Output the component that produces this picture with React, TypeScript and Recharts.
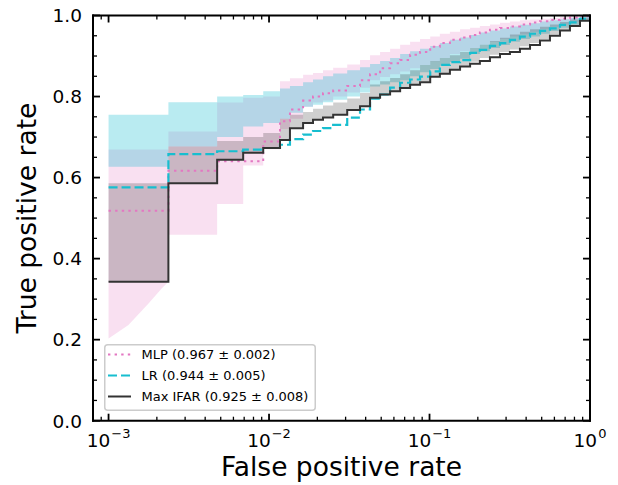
import React from "react";
import { ComposedChart, Area, Line, XAxis, YAxis, Legend, Label } from "recharts";

// False positive rate grid shared by the curves and the bands
const fpr = [
  0.001, 0.00236, 0.00475, 0.0069, 0.0092, 0.0117, 0.0135, 0.0163, 0.0188, 0.0217,
  0.0251, 0.0307, 0.0369, 0.0426, 0.0492, 0.0568, 0.0656, 0.0757, 0.0873, 0.101,
  0.116, 0.134, 0.155, 0.179, 0.206, 0.238, 0.275, 0.317, 0.366, 0.423,
  0.488, 0.563, 0.65, 0.75, 0.866, 1,
];

// True positive rate of each model
const mlpTpr = [
  0.518, 0.617, 0.64, 0.64, 0.689, 0.739, 0.768, 0.79, 0.8, 0.808,
  0.815, 0.826, 0.84, 0.855, 0.87, 0.882, 0.89, 0.903, 0.91, 0.923,
  0.932, 0.94, 0.946, 0.952, 0.958, 0.965, 0.969, 0.973, 0.978, 0.983,
  0.986, 0.989, 0.992, 0.995, 0.998, 1,
];
const lrTpr = [
  0.576, 0.658, 0.665, 0.669, 0.673, 0.681, 0.695, 0.706, 0.715, 0.722,
  0.73, 0.748, 0.768, 0.795, 0.805, 0.822, 0.834, 0.842, 0.849, 0.862,
  0.878, 0.885, 0.89, 0.908, 0.915, 0.925, 0.932, 0.94, 0.948, 0.955,
  0.962, 0.968, 0.977, 0.983, 0.992, 1,
];
const ifarTpr = [
  0.343, 0.586, 0.644, 0.661, 0.673, 0.693, 0.722, 0.735, 0.743, 0.748,
  0.755, 0.767, 0.776, 0.797, 0.805, 0.813, 0.821, 0.829, 0.835, 0.849,
  0.856, 0.866, 0.874, 0.881, 0.888, 0.897, 0.905, 0.91, 0.918, 0.927,
  0.938, 0.95, 0.963, 0.974, 0.987, 1,
];

// Uncertainty bands (low / high)
const mlpLow = [
  0.669, 0.459, 0.535, 0.63, 0.67, 0.72, 0.745, 0.775, 0.785, 0.79,
  0.8, 0.81, 0.822, 0.84, 0.848, 0.855, 0.862, 0.87, 0.878, 0.887,
  0.895, 0.905, 0.912, 0.92, 0.928, 0.935, 0.942, 0.948, 0.954, 0.96,
  0.966, 0.972, 0.978, 0.984, 0.99, 1,
];
const mlpHigh = [
  0.669, 0.714, 0.785, 0.797, 0.8, 0.838, 0.845, 0.854, 0.858, 0.865,
  0.871, 0.879, 0.89, 0.902, 0.91, 0.918, 0.928, 0.935, 0.942, 0.948,
  0.955, 0.96, 0.966, 0.97, 0.974, 0.978, 0.982, 0.985, 0.988, 0.99,
  0.992, 0.994, 0.996, 0.997, 0.999, 1,
];
const lrLow = [
  0.627, 0.677, 0.7, 0.726, 0.735, 0.745, 0.76, 0.775, 0.78, 0.786,
  0.792, 0.8, 0.81, 0.825, 0.83, 0.835, 0.84, 0.85, 0.86, 0.868,
  0.876, 0.885, 0.893, 0.905, 0.912, 0.92, 0.927, 0.935, 0.942, 0.948,
  0.955, 0.962, 0.97, 0.977, 0.986, 1,
];
const lrHigh = [
  0.755, 0.786, 0.8, 0.804, 0.813, 0.82, 0.826, 0.835, 0.842, 0.85,
  0.857, 0.865, 0.872, 0.88, 0.888, 0.895, 0.905, 0.912, 0.918, 0.925,
  0.932, 0.94, 0.946, 0.952, 0.958, 0.963, 0.968, 0.973, 0.977, 0.981,
  0.985, 0.988, 0.991, 0.994, 0.997, 1,
];
const ifarLow = [
  0.343, 0.586, 0.644, 0.661, 0.673, 0.693, 0.722, 0.735, 0.743, 0.748,
  0.755, 0.767, 0.776, 0.797, 0.805, 0.813, 0.821, 0.829, 0.837, 0.85,
  0.858, 0.868, 0.876, 0.886, 0.895, 0.903, 0.91, 0.916, 0.924, 0.932,
  0.942, 0.953, 0.965, 0.976, 0.988, 1,
];
const ifarHigh = [
  0.586, 0.677, 0.69, 0.7, 0.71, 0.745, 0.755, 0.762, 0.77, 0.778,
  0.785, 0.795, 0.809, 0.83, 0.838, 0.846, 0.855, 0.865, 0.878, 0.888,
  0.895, 0.902, 0.91, 0.92, 0.928, 0.937, 0.945, 0.953, 0.96, 0.966,
  0.972, 0.978, 0.984, 0.99, 0.995, 1,
];

// MLP band in the first bin has a curved lower edge
const mlpHeadFpr = [0.001, 0.00133, 0.00178, 0.00215, 0.00236];
const mlpHeadLow = [0.203, 0.236, 0.29, 0.327, 0.343];
const mlpHeadHigh = [0.669, 0.669, 0.669, 0.669, 0.669];

// Ticks
const xMajor = [0.001, 0.01, 0.1, 1];
const xExponents = ["\u22123", "\u22122", "\u22121", "0"];
const xMinor = [
  0.0009, 0.002, 0.003, 0.004, 0.005, 0.006, 0.007, 0.008, 0.009,
  0.02, 0.03, 0.04, 0.05, 0.06, 0.07, 0.08, 0.09,
  0.2, 0.3, 0.4, 0.5, 0.6, 0.7, 0.8, 0.9,
];
const yMajor = [0, 0.2, 0.4, 0.6, 0.8, 1];
const yMinor = [0.05, 0.1, 0.15, 0.25, 0.3, 0.35, 0.45, 0.5, 0.55, 0.65, 0.7, 0.75, 0.85, 0.9, 0.95];

const legendLabels = ["MLP (0.967 \u00b1 0.002)", "LR (0.944 \u00b1 0.005)", "Max IFAR (0.925 \u00b1 0.008)"];

const PINK = "#e377c2";
const CYAN = "#17becf";
const DARK = "#333333";
const FONT = "DejaVu Sans, sans-serif";

const rows = fpr.map((x, i) => ({
  fpr: x,
  mlp: mlpTpr[i],
  lr: lrTpr[i],
  ifar: ifarTpr[i],
  mlpBand: [mlpLow[i], mlpHigh[i]],
  lrBand: [lrLow[i], lrHigh[i]],
  ifarBand: [ifarLow[i], ifarHigh[i]],
}));

const headRows = mlpHeadFpr.map((x, i) => ({ fpr: x, mlpBand: [mlpHeadLow[i], mlpHeadHigh[i]] }));

const xTicks = [...xMajor, ...xMinor].sort((a, b) => a - b);
const yTicks = [...yMajor, ...yMinor].sort((a, b) => a - b);

const MAJOR_LEN = 7;
const MINOR_LEN = 4;
const frameLine = { stroke: "#000", strokeWidth: 2, strokeLinecap: "square" as const };

// rough DejaVu Sans advance widths (em) for the tick label glyphs
const BASE_SIZE = 18.5;
const SUP_SIZE = 13;
const supWidth = (s: string) => [...s].reduce((w, c) => w + (c === "\u2212" ? 0.838 : 0.636), 0) * SUP_SIZE;

function BottomTick(props: any) {
  const { x, y, payload } = props;
  const idx = xMajor.indexOf(payload.value);
  const major = idx >= 0;
  const baseW = 2 * 0.636 * BASE_SIZE;
  const exp = major ? xExponents[idx] : "";
  const total = baseW + 1 + supWidth(exp);
  const left = x - total / 2;
  return (
    <g>
      <line x1={x} x2={x} y1={y} y2={y - (major ? MAJOR_LEN : MINOR_LEN)} stroke="#000" strokeWidth={major ? 1.8 : 1.3} />
      {major && (
        <>
          <text x={left} y={y + 26.5} textAnchor="start" fontFamily={FONT} fontSize={BASE_SIZE} fill="#000">
            10
          </text>
          <text x={left + baseW + 1} y={y + 17} textAnchor="start" fontFamily={FONT} fontSize={SUP_SIZE} fill="#000">
            {exp}
          </text>
        </>
      )}
    </g>
  );
}

function TopTick(props: any) {
  const { x, y, payload } = props;
  const major = xMajor.includes(payload.value);
  return <line x1={x} x2={x} y1={y} y2={y + (major ? MAJOR_LEN : MINOR_LEN)} stroke="#000" strokeWidth={major ? 1.8 : 1.3} />;
}

function LeftTick(props: any) {
  const { x, y, payload } = props;
  const major = yMajor.some((v) => Math.abs(v - payload.value) < 1e-9);
  return (
    <g>
      <line x1={x} x2={x + (major ? MAJOR_LEN : MINOR_LEN)} y1={y} y2={y} stroke="#000" strokeWidth={major ? 1.8 : 1.3} />
      {major && (
        <text x={x - 11} y={y + 6.8} textAnchor="end" fontFamily={FONT} fontSize={BASE_SIZE} fill="#000">
          {payload.value.toFixed(1)}
        </text>
      )}
    </g>
  );
}

function RightTick(props: any) {
  const { x, y, payload } = props;
  const major = yMajor.some((v) => Math.abs(v - payload.value) < 1e-9);
  return <line x1={x} x2={x - (major ? MAJOR_LEN : MINOR_LEN)} y1={y} y2={y} stroke="#000" strokeWidth={major ? 1.8 : 1.3} />;
}

function LegendBox() {
  const styles = [
    { stroke: PINK, dash: "2.4 4.2", width: 2 },
    { stroke: CYAN, dash: "9 4", width: 2.2 },
    { stroke: DARK, dash: undefined, width: 2 },
  ];
  return (
    <svg width={212} height={67} style={{ display: "block" }}>
      <rect x={0.75} y={0.75} width={210.5} height={65.5} rx={3} fill="#fff" fillOpacity={0.8} stroke="#cccccc" strokeWidth={1.5} />
      {legendLabels.map((label, i) => (
        <g key={label}>
          <line x1={4} x2={27} y1={10.5 + i * 21} y2={10.5 + i * 21} stroke={styles[i].stroke} strokeWidth={styles[i].width} strokeDasharray={styles[i].dash} />
          <text x={37.5} y={15.3 + i * 21} fontFamily={FONT} fontSize={13} fill="#000">
            {label}
          </text>
        </g>
      ))}
    </svg>
  );
}

export default function App() {
  return (
    <div style={{ position: "absolute", left: 0, top: 0, background: "#fff" }}>
      <ComposedChart width={618} height={485} data={rows} margin={{ top: 14.5, right: 27, bottom: 63.3, left: 92 }}>
        <XAxis
          dataKey="fpr"
          type="number"
          scale="log"
          domain={[0.0008, 1]}
          allowDataOverflow
          ticks={xTicks}
          interval={0}
          height={1}
          tickSize={0}
          tickMargin={0}
          tickLine={false}
          axisLine={frameLine}
          tick={<BottomTick />}
        >
          <Label
            content={(p: any) => {
              const vb = p.viewBox || { x: 93, y: 420.7, width: 497 };
              return (
                <text x={vb.x + vb.width / 2} y={vb.y + 55} textAnchor="middle" fontFamily={FONT} fontSize={26.5} fill="#000">
                  False positive rate
                </text>
              );
            }}
          />
        </XAxis>
        <XAxis
          xAxisId="top"
          orientation="top"
          dataKey="fpr"
          type="number"
          scale="log"
          domain={[0.0008, 1]}
          allowDataOverflow
          ticks={xTicks}
          interval={0}
          height={1}
          tickSize={0}
          tickMargin={0}
          tickLine={false}
          axisLine={frameLine}
          tick={<TopTick />}
        />
        <YAxis
          type="number"
          domain={[0, 1]}
          allowDataOverflow
          ticks={yTicks}
          interval={0}
          width={1}
          tickSize={0}
          tickMargin={0}
          tickLine={false}
          axisLine={frameLine}
          tick={<LeftTick />}
        >
          <Label
            content={(p: any) => {
              const vb = p.viewBox || { x: 92, y: 15.5, width: 1, height: 405.2 };
              const cx = vb.x + vb.width - 57;
              const cy = vb.y + vb.height / 2;
              return (
                <text x={cx} y={cy} transform={`rotate(-90 ${cx} ${cy})`} textAnchor="middle" fontFamily={FONT} fontSize={26.5} fill="#000">
                  True positive rate
                </text>
              );
            }}
          />
        </YAxis>
        <YAxis
          yAxisId="right"
          orientation="right"
          type="number"
          domain={[0, 1]}
          allowDataOverflow
          ticks={yTicks}
          interval={0}
          width={1}
          tickSize={0}
          tickMargin={0}
          tickLine={false}
          axisLine={frameLine}
          tick={<RightTick />}
        />

        {/* bands */}
        <Area data={headRows} dataKey="mlpBand" type="linear" fill={PINK} fillOpacity={0.23} stroke="none" isAnimationActive={false} legendType="none" />
        <Area dataKey="mlpBand" type="stepAfter" fill={PINK} fillOpacity={0.23} stroke="none" isAnimationActive={false} legendType="none" />
        <Area dataKey="lrBand" type="stepAfter" fill={CYAN} fillOpacity={0.3} stroke="none" isAnimationActive={false} legendType="none" />
        <Area dataKey="ifarBand" type="stepAfter" fill="#000" fillOpacity={0.19} stroke="none" isAnimationActive={false} legendType="none" />

        {/* curves */}
        <Line dataKey="mlp" name={legendLabels[0]} type="stepAfter" stroke={PINK} strokeWidth={2} strokeDasharray="2.4 4.2" dot={false} activeDot={false} isAnimationActive={false} />
        <Line dataKey="lr" name={legendLabels[1]} type="stepAfter" stroke={CYAN} strokeWidth={2.2} strokeDasharray="9 4" dot={false} activeDot={false} isAnimationActive={false} />
        <Line dataKey="ifar" name={legendLabels[2]} type="stepAfter" stroke={DARK} strokeWidth={2} dot={false} activeDot={false} isAnimationActive={false} />

        <Legend
          layout="vertical"
          align="center"
          verticalAlign="middle"
          wrapperStyle={{ left: 104, top: 344, width: 212, height: 67 }}
          content={() => <LegendBox />}
        />
      </ComposedChart>
    </div>
  );
}
